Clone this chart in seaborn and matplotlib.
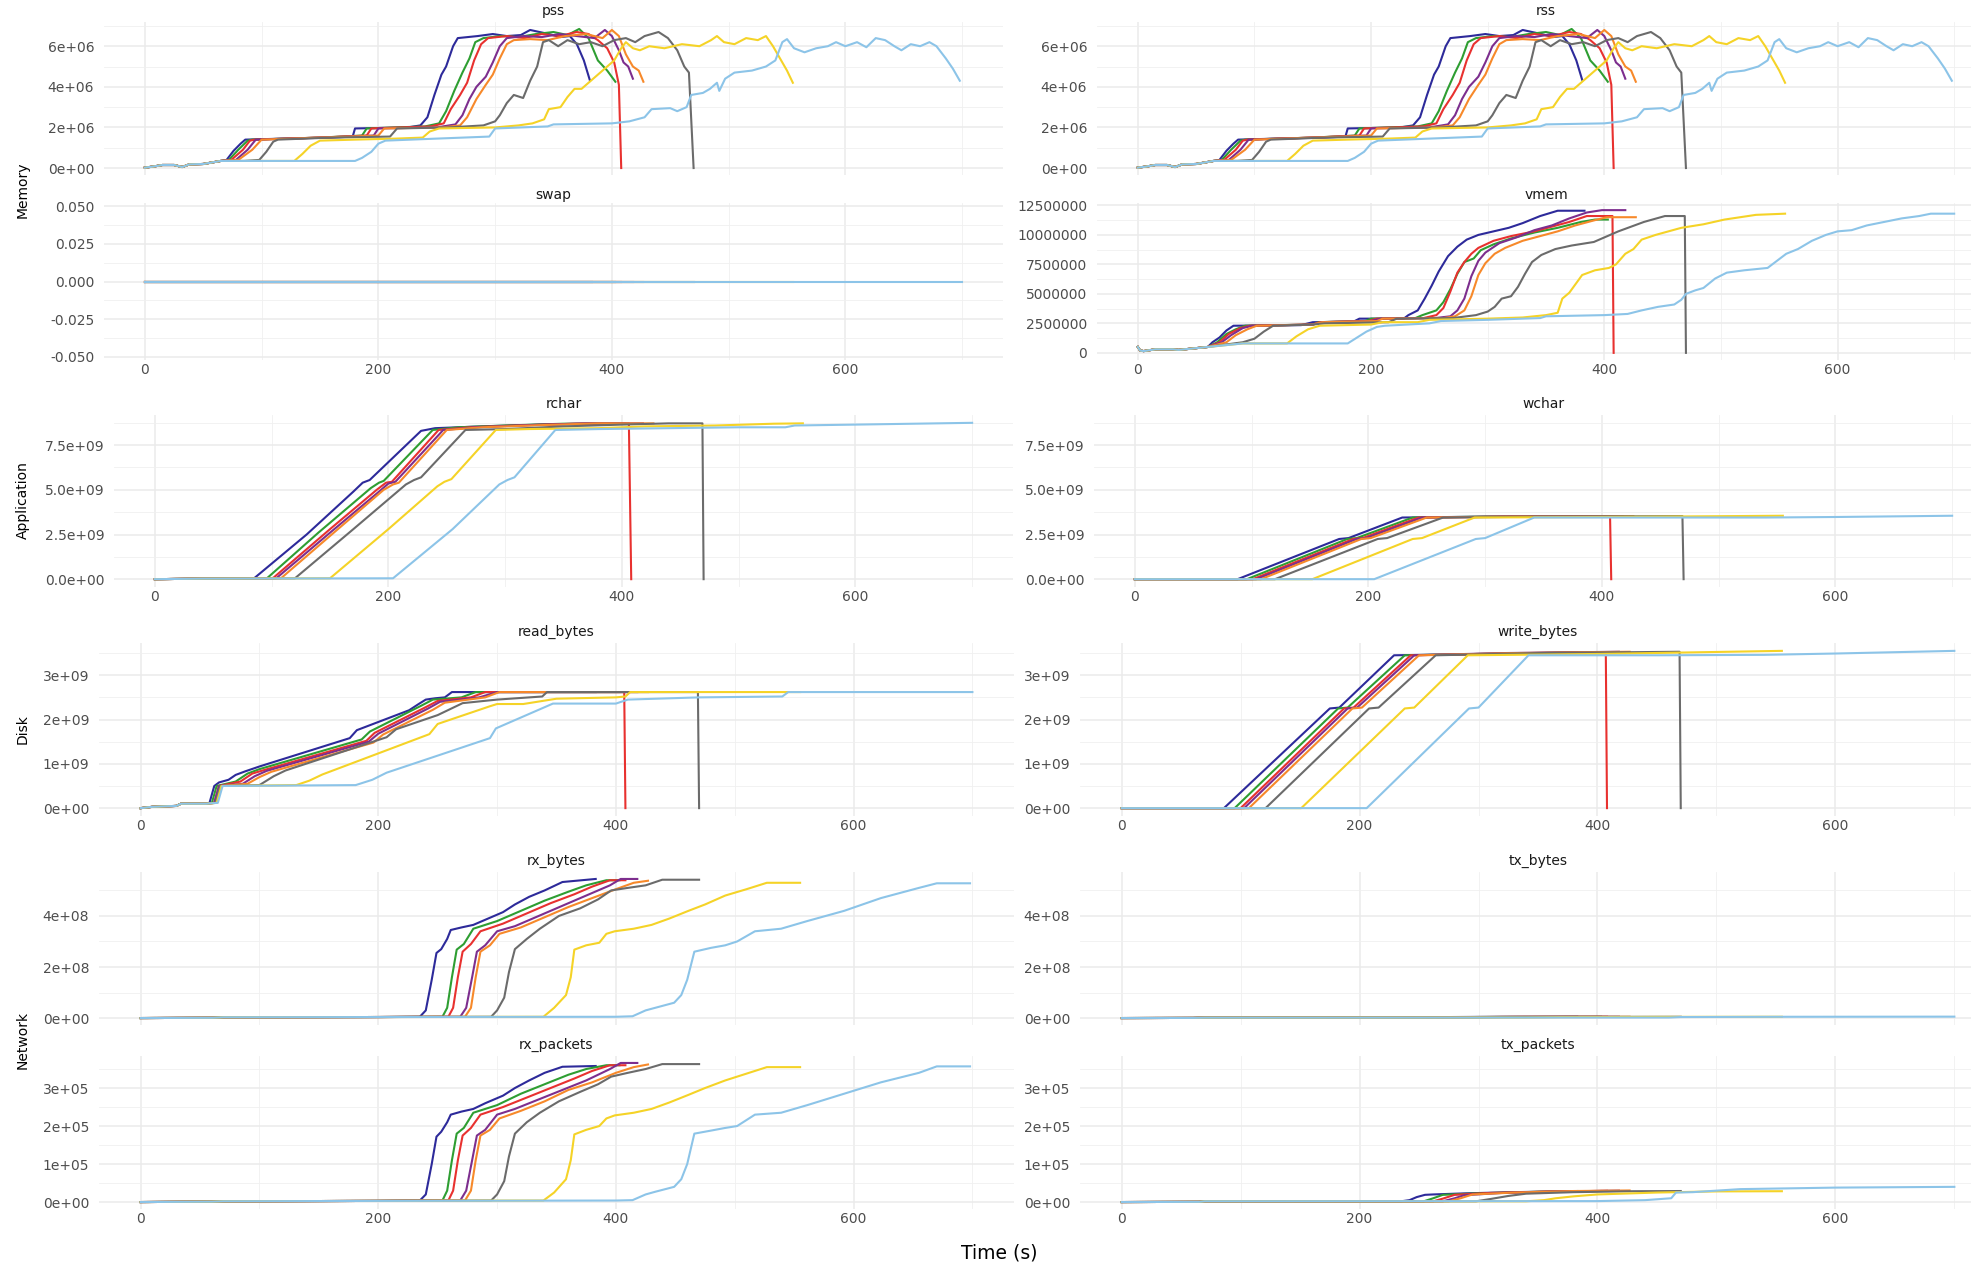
import matplotlib
matplotlib.use("Agg")
import matplotlib.pyplot as plt
from matplotlib.ticker import FixedLocator
import pandas as pd
import seaborn as sns

# ---------------------------------------------------------------- runs
RUNS = ["run1", "run2", "run3", "run4", "run5", "run6", "run7", "run8"]
COLORS = ["#2D2A9A", "#2E9E32", "#E8312F", "#7D2E8E",
          "#F7892A", "#6B6B6B", "#F5D327", "#8CC4E8"]
END_T = [383, 403, 408, 418, 427, 470, 555, 700]

# ---------------------------------------------------------------- memory (pss / rss, units of 1e6)
PSS_START = [(0, 0.02), (8, 0.08), (15, 0.15), (25, 0.15), (32, 0.05),
             (38, 0.18), (50, 0.2), (58, 0.28), (65, 0.35)]
PSS = {
    "run1": PSS_START + [(70, 0.4), (76, 0.85), (82, 1.2), (86, 1.4), (120, 1.45), (160, 1.5),
                         (178, 1.55), (180, 1.95), (225, 2.0), (236, 2.1), (242, 2.5), (248, 3.6),
                         (254, 4.6), (258, 5.0), (264, 6.0), (268, 6.4), (285, 6.5), (298, 6.6),
                         (310, 6.5), (322, 6.55), (330, 6.8), (338, 6.7), (346, 6.6), (356, 6.45),
                         (364, 6.5), (370, 6.1), (376, 5.3), (381, 4.35)],
    "run2": PSS_START + [(72, 0.4), (80, 0.9), (88, 1.35), (92, 1.4), (150, 1.5), (186, 1.6),
                         (190, 1.95), (240, 2.05), (252, 2.2), (258, 2.8), (265, 3.8), (272, 4.7),
                         (278, 5.4), (283, 6.2), (290, 6.4), (305, 6.5), (320, 6.45), (335, 6.6),
                         (350, 6.7), (362, 6.55), (372, 6.85), (380, 6.4), (388, 5.3), (396, 4.8),
                         (403, 4.25)],
    "run3": PSS_START + [(74, 0.4), (84, 0.9), (90, 1.35), (94, 1.4), (150, 1.5), (190, 1.6),
                         (194, 1.95), (245, 2.05), (256, 2.2), (262, 2.9), (270, 3.6), (276, 4.2),
                         (282, 5.3), (288, 6.1), (294, 6.4), (310, 6.5), (325, 6.4), (340, 6.6),
                         (355, 6.5), (370, 6.7), (380, 6.6), (388, 6.3), (396, 5.9), (402, 5.2),
                         (406, 4.1), (408, 0.0)],
    "run4": PSS_START + [(78, 0.4), (88, 0.9), (95, 1.4), (150, 1.5), (196, 1.6), (200, 1.95),
                         (250, 2.0), (266, 2.15), (272, 2.6), (278, 3.4), (284, 4.0), (292, 4.5),
                         (298, 5.2), (304, 6.0), (310, 6.4), (325, 6.5), (340, 6.45), (355, 6.6),
                         (370, 6.5), (385, 6.4), (394, 6.8), (400, 6.5), (406, 5.8), (410, 5.2),
                         (414, 5.0), (418, 4.4)],
    "run5": PSS_START + [(80, 0.4), (92, 0.9), (100, 1.4), (150, 1.5), (200, 1.6), (205, 1.95),
                         (255, 2.0), (270, 2.1), (276, 2.5), (284, 3.4), (292, 4.1), (298, 4.6),
                         (304, 5.4), (310, 6.1), (316, 6.3), (330, 6.35), (345, 6.3), (360, 6.5),
                         (378, 6.6), (392, 6.4), (400, 6.8), (406, 6.5), (412, 5.6), (418, 5.0),
                         (423, 4.8), (427, 4.25)],
    "run6": PSS_START + [(85, 0.35), (98, 0.4), (104, 0.8), (110, 1.3), (114, 1.4), (160, 1.5),
                         (210, 1.55), (216, 1.95), (260, 2.0), (290, 2.1), (300, 2.3), (304, 2.6),
                         (310, 3.2), (316, 3.6), (324, 3.45), (330, 4.3), (336, 5.0), (341, 6.2),
                         (346, 6.3), (354, 6.0), (362, 6.3), (372, 6.1), (382, 6.2), (392, 6.0),
                         (402, 6.3), (412, 6.4), (420, 6.2), (428, 6.5), (440, 6.7), (448, 6.4),
                         (456, 5.8), (462, 5.0), (466, 4.7), (470, 0.0)],
    "run7": PSS_START + [(100, 0.35), (128, 0.35), (135, 0.7), (142, 1.1), (150, 1.35),
                         (180, 1.4), (215, 1.45), (238, 1.5), (244, 1.8), (252, 1.95), (300, 2.0),
                         (320, 2.1), (332, 2.2), (342, 2.4), (346, 2.9), (356, 3.0), (362, 3.5),
                         (368, 3.9), (374, 3.9), (380, 4.2), (388, 4.6), (396, 5.0), (402, 5.3),
                         (408, 5.9), (412, 6.2), (418, 5.9), (424, 5.8), (432, 6.0), (445, 5.9),
                         (460, 6.1), (475, 6.0), (485, 6.3), (490, 6.5), (496, 6.2), (505, 6.1),
                         (515, 6.4), (525, 6.3), (532, 6.5), (538, 6.0), (544, 5.4), (550, 4.8),
                         (555, 4.2)],
    "run8": PSS_START + [(100, 0.35), (180, 0.35), (186, 0.5), (194, 0.8), (200, 1.2),
                         (206, 1.35), (250, 1.45), (295, 1.55), (300, 1.95), (345, 2.05),
                         (350, 2.15), (400, 2.2), (415, 2.3), (428, 2.5), (434, 2.9), (450, 2.95),
                         (456, 2.8), (464, 3.0), (468, 3.6), (478, 3.7), (484, 3.9), (490, 4.2),
                         (492, 3.8), (497, 4.4), (505, 4.7), (520, 4.8), (532, 5.0), (540, 5.3),
                         (546, 6.2), (550, 6.35), (556, 5.9), (565, 5.7), (575, 5.9), (585, 6.0),
                         (592, 6.2), (600, 6.0), (610, 6.2), (618, 5.95), (626, 6.4), (634, 6.3),
                         (642, 6.0), (648, 5.8), (656, 6.1), (664, 6.0), (672, 6.2), (678, 6.0),
                         (686, 5.4), (692, 4.9), (698, 4.3)],
}
RSS = PSS

# swap stays flat at zero for every run
SWAP = {r: [(0, 0.0), (t, 0.0)] for r, t in zip(RUNS, END_T)}

# vmem, units of 1e6
VMEM_START = [(0, 0.5), (2, 0.2), (5, 0.15), (15, 0.3), (30, 0.3), (35, 0.25),
              (45, 0.35), (55, 0.45), (60, 0.5)]
VMEM = {
    "run1": VMEM_START + [(64, 0.9), (70, 1.3), (76, 1.9), (82, 2.3), (140, 2.35), (150, 2.6),
                          (185, 2.65), (190, 2.9), (228, 2.9), (232, 3.2), (240, 3.6), (246, 4.6),
                          (252, 5.7), (258, 6.9), (266, 8.2), (274, 9.0), (282, 9.6), (292, 10.0),
                          (305, 10.3), (318, 10.6), (330, 11.0), (345, 11.6), (360, 12.05),
                          (383, 12.05)],
    "run2": VMEM_START + [(68, 0.9), (76, 1.6), (84, 2.0), (92, 2.3), (150, 2.4), (155, 2.6),
                          (195, 2.7), (200, 2.9), (238, 2.95), (244, 3.2), (256, 3.6), (262, 4.3),
                          (268, 5.4), (274, 6.7), (280, 7.7), (288, 8.0), (294, 8.7), (305, 9.2),
                          (320, 9.7), (340, 10.2), (360, 10.6), (380, 11.1), (392, 11.3),
                          (403, 11.3)],
    "run3": VMEM_START + [(70, 0.9), (78, 1.6), (88, 2.1), (96, 2.3), (150, 2.4), (156, 2.6),
                          (198, 2.7), (205, 2.9), (245, 2.95), (256, 3.2), (262, 3.8), (268, 5.2),
                          (274, 6.8), (280, 7.7), (286, 8.4), (292, 8.9), (305, 9.5), (320, 9.9),
                          (340, 10.3), (355, 10.7), (370, 11.1), (385, 11.6), (407, 11.6),
                          (408, 0.0)],
    "run4": VMEM_START + [(72, 0.9), (80, 1.5), (90, 2.1), (98, 2.3), (150, 2.4), (158, 2.6),
                          (200, 2.7), (208, 2.9), (255, 2.95), (268, 3.1), (274, 3.6), (280, 4.6),
                          (286, 6.5), (292, 7.8), (298, 8.5), (310, 9.3), (325, 9.8), (340, 10.4),
                          (355, 10.8), (370, 11.4), (385, 11.9), (398, 12.1), (418, 12.1)],
    "run5": VMEM_START + [(76, 0.9), (84, 1.5), (94, 2.0), (102, 2.3), (150, 2.4), (158, 2.6),
                          (205, 2.7), (210, 2.9), (262, 2.95), (272, 3.1), (280, 3.6), (286, 4.8),
                          (292, 6.6), (298, 7.6), (306, 8.4), (315, 8.9), (330, 9.5), (345, 9.9),
                          (360, 10.3), (375, 10.8), (390, 11.2), (402, 11.5), (427, 11.5)],
    "run6": VMEM_START + [(90, 0.9), (100, 1.2), (108, 1.8), (116, 2.3), (150, 2.4), (160, 2.5),
                          (215, 2.6), (222, 2.9), (270, 2.95), (290, 3.2), (300, 3.5), (306, 3.9),
                          (312, 4.6), (320, 4.8), (326, 5.6), (332, 6.7), (338, 7.7), (346, 8.3),
                          (358, 8.8), (372, 9.1), (391, 9.4), (412, 10.3), (434, 11.1),
                          (452, 11.6), (469, 11.6), (470, 0.0)],
    "run7": VMEM_START + [(90, 0.8), (128, 0.8), (136, 1.4), (146, 2.0), (156, 2.3), (200, 2.4),
                          (210, 2.6), (240, 2.6), (250, 2.8), (300, 2.9), (330, 3.0),
                          (350, 3.2), (360, 3.4), (364, 4.6), (370, 5.1), (381, 6.6),
                          (392, 7.0), (404, 7.2), (410, 7.5), (418, 8.4), (425, 8.8),
                          (432, 9.6), (444, 10.0), (466, 10.6), (485, 10.9), (503, 11.3),
                          (530, 11.7), (555, 11.8)],
    "run8": VMEM_START + [(90, 0.8), (180, 0.8), (188, 1.3), (196, 1.8), (205, 2.2), (212, 2.3),
                          (250, 2.5), (260, 2.7), (300, 2.8), (345, 2.95), (350, 3.1), (400, 3.2),
                          (420, 3.3), (432, 3.6), (446, 3.9), (460, 4.1), (466, 4.5), (470, 5.0),
                          (478, 5.3), (485, 5.5), (495, 6.3), (505, 6.8), (520, 7.0), (540, 7.2),
                          (548, 7.8), (556, 8.4), (566, 8.8), (578, 9.5), (590, 10.0),
                          (600, 10.3), (612, 10.4), (625, 10.8), (640, 11.1), (655, 11.4),
                          (670, 11.6), (680, 11.8), (700, 11.8)],
}

# ---------------------------------------------------------------- application (units of 1e9)
RCHAR = {
    "run1": [(0, 0.0), (40, 0.03), (85, 0.05), (130, 2.5), (170, 4.9), (178, 5.4), (184, 5.55),
             (228, 8.3), (240, 8.45), (280, 8.55), (330, 8.65), (383, 8.7)],
    "run2": [(0, 0.0), (40, 0.03), (96, 0.05), (140, 2.6), (185, 5.1), (192, 5.4), (196, 5.5),
             (238, 8.35), (260, 8.5), (300, 8.6), (350, 8.7), (403, 8.72)],
    "run3": [(0, 0.0), (40, 0.03), (101, 0.05), (150, 2.8), (190, 5.0), (198, 5.4), (203, 5.45),
             (243, 8.35), (270, 8.5), (310, 8.6), (360, 8.7), (406, 8.72), (408, 0.0)],
    "run4": [(0, 0.0), (40, 0.03), (104, 0.05), (150, 2.6), (192, 4.9), (200, 5.35), (206, 5.45),
             (247, 8.35), (275, 8.5), (320, 8.62), (370, 8.72), (418, 8.72)],
    "run5": [(0, 0.0), (40, 0.03), (108, 0.05), (155, 2.7), (196, 5.0), (204, 5.3), (209, 5.4),
             (250, 8.35), (280, 8.5), (330, 8.62), (380, 8.72), (427, 8.72)],
    "run6": [(0, 0.0), (40, 0.03), (120, 0.05), (170, 2.8), (215, 5.3), (222, 5.55), (228, 5.7),
             (266, 8.35), (300, 8.4), (350, 8.55), (400, 8.65), (440, 8.72), (469, 8.72),
             (470, 0.0)],
    "run7": [(0, 0.0), (40, 0.03), (150, 0.05), (200, 2.8), (242, 5.2), (248, 5.45), (254, 5.6),
             (292, 8.35), (320, 8.4), (380, 8.45), (420, 8.55), (480, 8.6), (530, 8.7),
             (555, 8.72)],
    "run8": [(0, 0.0), (40, 0.03), (204, 0.05), (255, 2.8), (295, 5.3), (302, 5.55), (308, 5.7),
             (343, 8.35), (380, 8.4), (440, 8.45), (500, 8.5), (540, 8.5), (548, 8.6),
             (600, 8.65), (650, 8.7), (700, 8.75)],
}
WCHAR = {
    "run1": [(0, 0.0), (88, 0.0), (175, 2.25), (183, 2.3), (229, 3.45), (300, 3.5), (383, 3.52)],
    "run2": [(0, 0.0), (96, 0.0), (182, 2.25), (190, 2.3), (238, 3.45), (300, 3.5), (403, 3.52)],
    "run3": [(0, 0.0), (101, 0.0), (187, 2.25), (195, 2.3), (243, 3.45), (320, 3.5), (407, 3.52),
             (408, 0.0)],
    "run4": [(0, 0.0), (104, 0.0), (190, 2.25), (198, 2.3), (246, 3.45), (320, 3.5), (418, 3.52)],
    "run5": [(0, 0.0), (108, 0.0), (194, 2.25), (202, 2.3), (250, 3.45), (330, 3.5), (427, 3.53)],
    "run6": [(0, 0.0), (120, 0.0), (208, 2.25), (216, 2.3), (264, 3.45), (350, 3.5), (469, 3.53),
             (470, 0.0)],
    "run7": [(0, 0.0), (152, 0.0), (238, 2.25), (246, 2.3), (291, 3.45), (400, 3.48), (555, 3.55)],
    "run8": [(0, 0.0), (205, 0.0), (292, 2.25), (300, 2.3), (342, 3.45), (450, 3.45), (540, 3.45),
             (600, 3.48), (700, 3.55)],
}

# ---------------------------------------------------------------- disk (units of 1e9)
READ_START = [(0, 0.0), (10, 0.03), (30, 0.05), (34, 0.1), (55, 0.1)]
READ_BYTES = {
    "run1": READ_START + [(58, 0.12), (62, 0.5), (66, 0.58), (74, 0.64), (80, 0.75), (88, 0.83),
                          (100, 0.94), (176, 1.58), (182, 1.76), (226, 2.21), (234, 2.35),
                          (240, 2.45), (248, 2.48), (256, 2.5), (262, 2.62), (383, 2.62)],
    "run2": READ_START + [(60, 0.12), (64, 0.5), (80, 0.6), (90, 0.78), (100, 0.88), (186, 1.55),
                          (193, 1.73), (236, 2.31), (246, 2.45), (270, 2.5), (282, 2.62),
                          (403, 2.62)],
    "run3": READ_START + [(62, 0.12), (66, 0.5), (84, 0.6), (94, 0.78), (104, 0.86), (190, 1.52),
                          (197, 1.7), (240, 2.28), (250, 2.42), (278, 2.5), (290, 2.62),
                          (407, 2.62), (408, 0.0)],
    "run4": READ_START + [(62, 0.12), (66, 0.5), (86, 0.55), (96, 0.72), (106, 0.84),
                          (192, 1.5), (200, 1.68), (242, 2.25), (252, 2.4), (285, 2.5),
                          (300, 2.62), (418, 2.62)],
    "run5": READ_START + [(64, 0.12), (68, 0.5), (90, 0.55), (100, 0.7), (110, 0.82),
                          (196, 1.48), (204, 1.66), (246, 2.22), (256, 2.38), (290, 2.5),
                          (302, 2.62), (427, 2.62)],
    "run6": READ_START + [(63, 0.12), (67, 0.5), (100, 0.52), (112, 0.72), (122, 0.85),
                          (207, 1.6), (215, 1.78), (250, 2.1), (271, 2.37), (300, 2.45),
                          (338, 2.52), (342, 2.62), (469, 2.62), (470, 0.0)],
    "run7": READ_START + [(64, 0.12), (68, 0.5), (131, 0.52), (142, 0.62), (153, 0.76),
                          (243, 1.67), (250, 1.9), (294, 2.3), (300, 2.35), (322, 2.35),
                          (350, 2.47), (400, 2.5), (408, 2.52), (412, 2.62), (555, 2.62)],
    "run8": READ_START + [(65, 0.12), (69, 0.5), (181, 0.52), (195, 0.64), (207, 0.8),
                          (294, 1.58), (299, 1.8), (347, 2.36), (400, 2.36), (410, 2.45),
                          (470, 2.5), (540, 2.52), (545, 2.62), (700, 2.62)],
}
WRITE_BYTES = {
    "run1": [(0, 0.0), (86, 0.0), (175, 2.25), (183, 2.27), (229, 3.45), (300, 3.48), (383, 3.52)],
    "run2": [(0, 0.0), (95, 0.0), (182, 2.25), (190, 2.27), (238, 3.45), (300, 3.48), (403, 3.52)],
    "run3": [(0, 0.0), (100, 0.0), (187, 2.25), (195, 2.27), (243, 3.45), (320, 3.48),
             (407, 3.52), (408, 0.0)],
    "run4": [(0, 0.0), (103, 0.0), (190, 2.25), (198, 2.27), (246, 3.45), (320, 3.5), (418, 3.53)],
    "run5": [(0, 0.0), (107, 0.0), (194, 2.25), (202, 2.27), (250, 3.45), (330, 3.5), (427, 3.53)],
    "run6": [(0, 0.0), (121, 0.0), (208, 2.25), (216, 2.27), (264, 3.45), (350, 3.5), (469, 3.53),
             (470, 0.0)],
    "run7": [(0, 0.0), (151, 0.0), (238, 2.25), (246, 2.27), (291, 3.45), (400, 3.48),
             (555, 3.55)],
    "run8": [(0, 0.0), (206, 0.0), (292, 2.25), (300, 2.27), (342, 3.45), (450, 3.45),
             (540, 3.46), (600, 3.49), (700, 3.55)],
}

# ---------------------------------------------------------------- network
RX_START = [(0, 0.0), (60, 0.01), (70, 0.03), (200, 0.04)]
RX_BYTES = {  # units of 1e8
    "run1": RX_START + [(235, 0.05), (240, 0.3), (245, 1.5), (249, 2.55), (253, 2.7), (258, 3.1),
                        (261, 3.45), (270, 3.55), (280, 3.65), (290, 3.85), (305, 4.15),
                        (315, 4.45), (327, 4.75), (340, 5.0), (355, 5.33), (383, 5.45)],
    "run2": RX_START + [(254, 0.05), (258, 0.4), (262, 1.6), (266, 2.68), (272, 2.9), (280, 3.5),
                        (300, 3.8), (320, 4.2), (340, 4.6), (360, 4.95), (375, 5.2), (392, 5.4),
                        (403, 5.4)],
    "run3": RX_START + [(259, 0.05), (263, 0.4), (267, 1.6), (271, 2.6), (278, 2.9), (286, 3.4),
                        (305, 3.7), (325, 4.1), (345, 4.5), (365, 4.85), (380, 5.15),
                        (395, 5.4), (408, 5.4)],
    "run4": RX_START + [(269, 0.05), (274, 0.4), (279, 1.6), (283, 2.6), (290, 2.85), (300, 3.4),
                        (315, 3.6), (335, 4.0), (355, 4.4), (375, 4.8), (395, 5.2), (404, 5.45),
                        (418, 5.45)],
    "run5": RX_START + [(273, 0.05), (278, 0.4), (282, 1.6), (286, 2.6), (294, 2.85), (302, 3.3),
                        (320, 3.55), (340, 3.95), (360, 4.35), (380, 4.7), (400, 5.05),
                        (415, 5.3), (427, 5.38)],
    "run6": RX_START + [(295, 0.05), (300, 0.3), (306, 0.8), (310, 1.8), (315, 2.7), (325, 3.1),
                        (336, 3.5), (352, 4.0), (370, 4.3), (385, 4.65), (396, 5.0), (410, 5.1),
                        (425, 5.2), (439, 5.42), (470, 5.42)],
    "run7": RX_START + [(339, 0.05), (348, 0.4), (358, 0.9), (362, 1.6), (365, 2.68),
                        (375, 2.85), (386, 2.95), (392, 3.3), (399, 3.4), (415, 3.5),
                        (430, 3.65), (445, 3.9), (461, 4.2), (475, 4.45), (492, 4.8),
                        (510, 5.05), (527, 5.3), (555, 5.3)],
    "run8": RX_START + [(400, 0.05), (414, 0.07), (425, 0.3), (433, 0.4), (449, 0.6),
                        (455, 0.9), (460, 1.5), (466, 2.6), (480, 2.75), (492, 2.85),
                        (502, 3.0), (517, 3.4), (539, 3.5), (561, 3.8), (592, 4.2),
                        (623, 4.7), (655, 5.1), (670, 5.28), (698, 5.28)],
}
TX_BYTES = {  # units of 1e8
    "run1": [(0, 0.0), (60, 0.005), (70, 0.015), (240, 0.02), (260, 0.035), (300, 0.045), (383, 0.05)],
    "run2": [(0, 0.0), (60, 0.005), (70, 0.015), (255, 0.02), (275, 0.035), (320, 0.045), (403, 0.05)],
    "run3": [(0, 0.0), (60, 0.005), (70, 0.015), (260, 0.02), (280, 0.035), (320, 0.045), (408, 0.05)],
    "run4": [(0, 0.0), (60, 0.005), (70, 0.015), (270, 0.02), (290, 0.035), (330, 0.045), (418, 0.05)],
    "run5": [(0, 0.0), (60, 0.005), (70, 0.015), (275, 0.02), (295, 0.035), (340, 0.045), (427, 0.05)],
    "run6": [(0, 0.0), (60, 0.005), (70, 0.015), (296, 0.02), (320, 0.035), (380, 0.045), (470, 0.05)],
    "run7": [(0, 0.0), (60, 0.005), (70, 0.015), (340, 0.02), (370, 0.035), (450, 0.045), (555, 0.05)],
    "run8": [(0, 0.0), (60, 0.005), (70, 0.015), (460, 0.02), (470, 0.04), (560, 0.05), (700, 0.055)],
}
RX_START_P = [(0, 0.0), (60, 0.01), (70, 0.02), (200, 0.03)]
RX_PACKETS = {  # units of 1e5
    "run1": RX_START_P + [(235, 0.04), (240, 0.2), (245, 1.0), (249, 1.72), (253, 1.85),
                          (258, 2.1), (261, 2.3), (270, 2.38), (280, 2.45), (290, 2.6),
                          (305, 2.8), (315, 3.0), (327, 3.2), (340, 3.4), (355, 3.56), (383, 3.58)],
    "run2": RX_START_P + [(254, 0.04), (258, 0.3), (262, 1.1), (266, 1.8), (272, 1.95),
                          (280, 2.35), (300, 2.55), (320, 2.85), (340, 3.1), (360, 3.35),
                          (375, 3.5), (392, 3.6), (403, 3.6)],
    "run3": RX_START_P + [(259, 0.04), (263, 0.3), (267, 1.1), (271, 1.75), (278, 1.95),
                          (286, 2.3), (305, 2.5), (325, 2.75), (345, 3.0), (365, 3.25),
                          (380, 3.45), (395, 3.6), (408, 3.6)],
    "run4": RX_START_P + [(269, 0.04), (274, 0.3), (279, 1.1), (283, 1.75), (290, 1.9),
                          (300, 2.3), (315, 2.45), (335, 2.7), (355, 2.95), (375, 3.2),
                          (395, 3.5), (404, 3.66), (418, 3.66)],
    "run5": RX_START_P + [(273, 0.04), (278, 0.3), (282, 1.1), (286, 1.75), (294, 1.9),
                          (302, 2.2), (320, 2.4), (340, 2.65), (360, 2.95), (380, 3.15),
                          (400, 3.4), (415, 3.55), (427, 3.62)],
    "run6": RX_START_P + [(295, 0.04), (300, 0.2), (306, 0.55), (310, 1.2), (315, 1.8),
                          (325, 2.1), (336, 2.35), (352, 2.65), (370, 2.9), (385, 3.1),
                          (396, 3.3), (410, 3.4), (425, 3.5), (439, 3.63), (470, 3.63)],
    "run7": RX_START_P + [(339, 0.04), (348, 0.25), (358, 0.6), (362, 1.1), (365, 1.78),
                          (375, 1.9), (386, 2.0), (392, 2.2), (399, 2.28), (415, 2.35),
                          (430, 2.45), (445, 2.62), (461, 2.82), (475, 3.0), (492, 3.2),
                          (510, 3.38), (527, 3.55), (555, 3.55)],
    "run8": RX_START_P + [(400, 0.04), (414, 0.05), (425, 0.2), (433, 0.27), (449, 0.4),
                          (455, 0.6), (460, 1.0), (466, 1.8), (480, 1.88), (492, 1.95),
                          (502, 2.0), (517, 2.3), (539, 2.35), (561, 2.55), (592, 2.85),
                          (623, 3.15), (655, 3.4), (670, 3.57), (698, 3.57)],
}
TX_PACKETS = {  # units of 1e5
    "run1": [(0, 0.0), (65, 0.005), (70, 0.02), (235, 0.02), (242, 0.05), (248, 0.13),
             (255, 0.19), (262, 0.2), (290, 0.23), (330, 0.26), (383, 0.29)],
    "run2": [(0, 0.0), (65, 0.005), (70, 0.02), (254, 0.02), (262, 0.1), (270, 0.19),
             (300, 0.23), (350, 0.27), (403, 0.29)],
    "run3": [(0, 0.0), (65, 0.005), (70, 0.02), (262, 0.02), (270, 0.09), (280, 0.19),
             (310, 0.24), (360, 0.275), (408, 0.295)],
    "run4": [(0, 0.0), (65, 0.005), (70, 0.02), (270, 0.02), (280, 0.1), (288, 0.18),
             (320, 0.24), (370, 0.28), (418, 0.3)],
    "run5": [(0, 0.0), (65, 0.005), (70, 0.02), (275, 0.02), (285, 0.1), (295, 0.2),
             (330, 0.25), (380, 0.29), (427, 0.305)],
    "run6": [(0, 0.0), (65, 0.005), (70, 0.02), (298, 0.02), (310, 0.08), (325, 0.16),
             (340, 0.22), (380, 0.26), (430, 0.285), (470, 0.29)],
    "run7": [(0, 0.0), (65, 0.005), (70, 0.02), (340, 0.02), (355, 0.05), (365, 0.1),
             (380, 0.15), (400, 0.2), (450, 0.25), (500, 0.28), (555, 0.285)],
    "run8": [(0, 0.0), (65, 0.005), (70, 0.02), (400, 0.025), (440, 0.05), (462, 0.1),
             (466, 0.25), (480, 0.26), (520, 0.34), (560, 0.36), (600, 0.38), (650, 0.39),
             (700, 0.4)],
}

# ---------------------------------------------------------------- axis ticks
X_MAJOR = [0, 200, 400, 600]
X_MINOR = [100, 300, 500, 700]
X_LABELS = ["0", "200", "400", "600"]

PSS_TICKS = [0, 2, 4, 6]
PSS_LABELS = ["0e+00", "2e+06", "4e+06", "6e+06"]
SWAP_TICKS = [-0.05, -0.025, 0.0, 0.025, 0.05]
SWAP_LABELS = ["-0.050", "-0.025", "0.000", "0.025", "0.050"]
VMEM_TICKS = [0, 2.5, 5, 7.5, 10, 12.5]
VMEM_LABELS = ["0", "2500000", "5000000", "7500000", "10000000", "12500000"]
APP_TICKS = [0, 2.5, 5, 7.5]
APP_LABELS = ["0.0e+00", "2.5e+09", "5.0e+09", "7.5e+09"]
DISK_TICKS = [0, 1, 2, 3]
DISK_LABELS = ["0e+00", "1e+09", "2e+09", "3e+09"]
NETB_TICKS = [0, 2, 4]
NETB_LABELS = ["0e+00", "2e+08", "4e+08"]
NETP_TICKS = [0, 1, 2, 3]
NETP_LABELS = ["0e+00", "1e+05", "2e+05", "3e+05"]

# ---------------------------------------------------------------- drawing
W, H = 1971, 1264
plt.rcParams["font.family"] = ["DejaVu Sans"]
fig = plt.figure(figsize=(W / 100, H / 100), dpi=100)
fig.patch.set_facecolor("white")
PALETTE = dict(zip(RUNS, COLORS))


def to_frame(points):
    rows = [(run, t, v) for run, pts in points.items() for t, v in pts]
    return pd.DataFrame(rows, columns=["run", "t", "v"])


def padded(*groups, pad=0.05):
    vals = [v for g in groups for pts in g.values() for _, v in pts]
    lo, hi = min(vals), max(vals)
    span = hi - lo
    return lo - pad * span, hi + pad * span


def minor_between(ticks):
    step = ticks[1] - ticks[0]
    return [t + step / 2 for t in [ticks[0] - step] + list(ticks)]


def panel(box, title, points, yticks, ylabels, ylim, show_x, title_gap=11):
    x0, y0, x1, y1 = box
    ax = fig.add_axes([x0 / W, 1 - y1 / H, (x1 - x0) / W, (y1 - y0) / H])
    ax.set_facecolor("white")
    sns.lineplot(data=to_frame(points), x="t", y="v", hue="run", hue_order=RUNS,
                 palette=PALETTE, estimator=None, sort=False, legend=False,
                 linewidth=1.5, ax=ax)
    ax.set_xlim(-35, 735)
    ax.set_ylim(*ylim)
    ax.xaxis.set_major_locator(FixedLocator(X_MAJOR))
    ax.xaxis.set_minor_locator(FixedLocator(X_MINOR))
    ax.set_xticklabels(X_LABELS)
    ax.set_yticks(yticks)
    ax.set_yticklabels(ylabels)
    ax.yaxis.set_minor_locator(FixedLocator(minor_between(yticks)))
    ax.grid(which="major", color="#EBEBEB", linewidth=1.1)
    ax.grid(which="minor", color="#F0F0F0", linewidth=0.6)
    ax.set_axisbelow(True)
    for s in ax.spines.values():
        s.set_visible(False)
    ax.tick_params(which="both", length=0, labelsize=10, labelcolor="#4D4D4D")
    ax.tick_params(axis="y", pad=7)
    ax.tick_params(axis="x", pad=2.5, labelbottom=show_x)
    ax.set_xlabel("")
    ax.set_ylabel("")
    fig.text((x0 + x1) / 2 / W, 1 - (y0 - title_gap) / H, title, ha="center", va="center",
             fontsize=10, color="#1A1A1A")
    return ax


LEFT_A = (104, 1003)
RIGHT_A = (1097, 1995)
LEFT_APP = (114, 1013)
RIGHT_APP = (1094, 1993)
LEFT_B = (99, 1014)
RIGHT_B = (1080, 1996)

mem_lim = padded(PSS, RSS)
panel((LEFT_A[0], 22, LEFT_A[1], 175), "pss", PSS, PSS_TICKS, PSS_LABELS, mem_lim, False)
panel((RIGHT_A[0], 22, RIGHT_A[1], 175), "rss", RSS, PSS_TICKS, PSS_LABELS, mem_lim, False)
panel((LEFT_A[0], 203, LEFT_A[1], 360), "swap", SWAP, SWAP_TICKS, SWAP_LABELS,
      (-0.052, 0.052), True, title_gap=8)
panel((RIGHT_A[0], 203, RIGHT_A[1], 360), "vmem", VMEM, VMEM_TICKS, VMEM_LABELS,
      padded(VMEM), True, title_gap=8)

app_lim = padded(RCHAR, WCHAR)
panel((LEFT_APP[0], 415, LEFT_APP[1], 587), "rchar", RCHAR, APP_TICKS, APP_LABELS, app_lim, True)
panel((RIGHT_APP[0], 415, RIGHT_APP[1], 587), "wchar", WCHAR, APP_TICKS, APP_LABELS, app_lim, True)

disk_lim = padded(READ_BYTES, WRITE_BYTES)
panel((LEFT_B[0], 643, LEFT_B[1], 816), "read_bytes", READ_BYTES, DISK_TICKS, DISK_LABELS,
      disk_lim, True)
panel((RIGHT_B[0], 643, RIGHT_B[1], 816), "write_bytes", WRITE_BYTES, DISK_TICKS, DISK_LABELS,
      disk_lim, True)

netb_lim = padded(RX_BYTES, TX_BYTES)
netp_lim = padded(RX_PACKETS, TX_PACKETS)
panel((LEFT_B[0], 872, LEFT_B[1], 1025), "rx_bytes", RX_BYTES, NETB_TICKS, NETB_LABELS,
      netb_lim, False)
panel((RIGHT_B[0], 872, RIGHT_B[1], 1025), "tx_bytes", TX_BYTES, NETB_TICKS, NETB_LABELS,
      netb_lim, False)
panel((LEFT_B[0], 1056, LEFT_B[1], 1209), "rx_packets", RX_PACKETS, NETP_TICKS, NETP_LABELS,
      netp_lim, True)
panel((RIGHT_B[0], 1056, RIGHT_B[1], 1209), "tx_packets", TX_PACKETS, NETP_TICKS, NETP_LABELS,
      netp_lim, True)

# group labels down the left edge and the shared time axis title
for label, yc in [("Memory", 190), ("Application", 500), ("Disk", 729), ("Network", 1040)]:
    fig.text(23 / W, 1 - yc / H, label, rotation=90, ha="center", va="center",
             fontsize=10, color="black")
fig.text(999 / W, 1 - 1253 / H, "Time (s)", ha="center", va="center",
         fontsize=13.5, color="black")

fig.savefig("out.png", dpi=100, facecolor="white")
